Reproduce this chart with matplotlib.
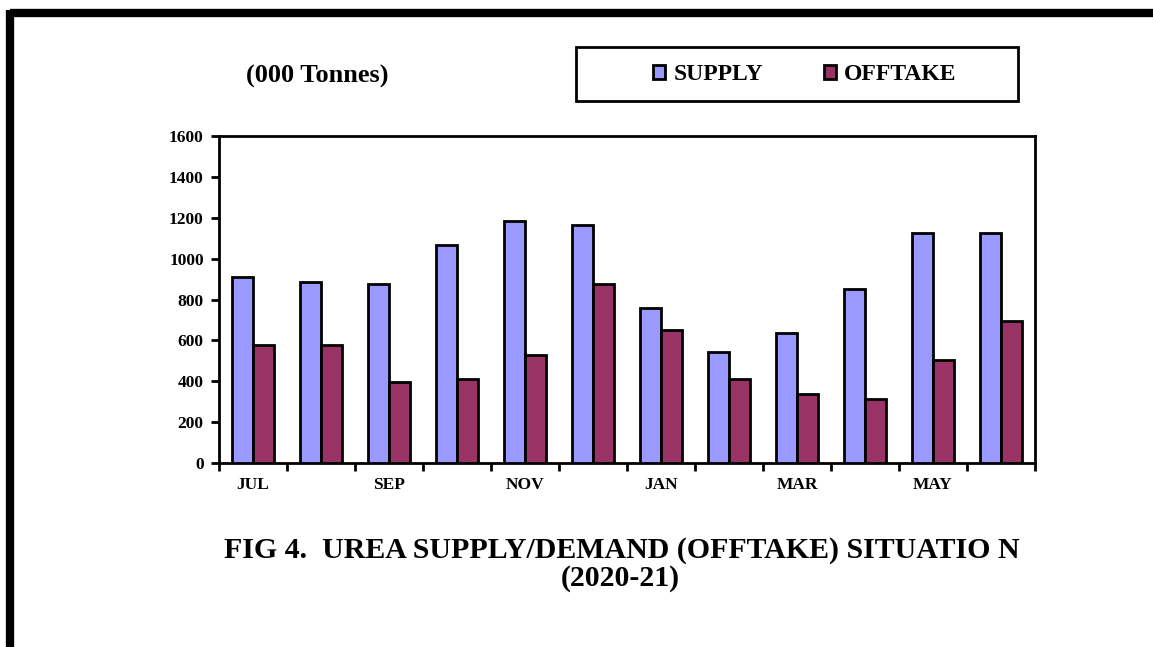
import numpy as np
import matplotlib
matplotlib.use("Agg")
import matplotlib.pyplot as plt
from matplotlib.lines import Line2D
from matplotlib.patches import Patch, Rectangle

# data (000 tonnes), 2020-21
months = ["JUL", "AUG", "SEP", "OCT", "NOV", "DEC", "JAN", "FEB", "MAR", "APR", "MAY", "JUN"]
supply = [910, 885, 875, 1065, 1185, 1165, 757, 541, 636, 853, 1127, 1127]
offtake = [576, 575, 396, 410, 530, 874, 649, 410, 339, 315, 505, 696]

supply_color = "#9999FF"
offtake_color = "#993366"

plt.rcParams["font.family"] = ["Liberation Serif", "DejaVu Serif"]
plt.rcParams["font.weight"] = "bold"

fig = plt.figure(figsize=(11.53, 6.47), dpi=100)
W, H = 1153, 647
ax = fig.add_axes([219 / W, 1 - 463 / H, (1035 - 219) / W, (463 - 136) / H])

x = np.arange(len(months))
bw = 0.31
ax.bar(x - bw / 2, supply, bw, color=supply_color, edgecolor="black", linewidth=2, zorder=3)
ax.bar(x + bw / 2, offtake, bw, color=offtake_color, edgecolor="black", linewidth=2, zorder=3)

ax.set_xlim(-0.5, len(months) - 0.5)
ax.set_ylim(0, 1600)
ax.set_yticks(np.arange(0, 1601, 200))
ax.tick_params(axis="y", direction="out", length=6, width=2, labelsize=12.5, pad=5)

# boundary ticks, labels on every other month
ax.set_xticks(np.arange(-0.5, len(months), 1.0))
ax.set_xticklabels([])
ax.tick_params(axis="x", direction="out", length=6, width=2)
ax.set_xticks(x[::2], minor=True)
ax.set_xticklabels(months[::2], minor=True, fontsize=12.5, fontweight="bold")
ax.tick_params(axis="x", which="minor", length=0, pad=10)
for lbl in ax.get_yticklabels():
    lbl.set_fontweight("bold")
for s in ax.spines.values():
    s.set_linewidth(2)

fig.text(317 / W, 1 - 76 / H, "(000 Tonnes)", ha="center", va="center", fontsize=19, fontweight="bold")

# legend box
fig.add_artist(Rectangle((576 / W, 1 - 101 / H), (1018 - 576) / W, (101 - 47) / H,
                         transform=fig.transFigure, facecolor="white", edgecolor="black",
                         linewidth=2))
handles = [Patch(facecolor=supply_color, edgecolor="black", linewidth=2),
           Patch(facecolor=offtake_color, edgecolor="black", linewidth=2)]
leg = fig.legend(handles, ["SUPPLY", "OFFTAKE"], loc="center",
                 bbox_to_anchor=(805 / W, 1 - 75 / H), ncol=2, frameon=False,
                 fontsize=17, handlelength=0.5, handleheight=0.5,
                 handletextpad=0.35, columnspacing=2.6, borderpad=0, borderaxespad=0)
for t in leg.get_texts():
    t.set_fontweight("bold")

fig.text(622 / W, 1 - 550 / H, "FIG 4.  UREA SUPPLY/DEMAND (OFFTAKE) SITUATIO N",
         ha="center", va="center", fontsize=21.5, fontweight="bold")
fig.text(620 / W, 1 - 579 / H, "(2020-21)", ha="center", va="center", fontsize=21.5, fontweight="bold")

# heavy frame lines at top and left
fig.add_artist(Line2D([10 / W, 1.0], [1 - 13 / H, 1 - 13 / H], color="black", linewidth=6,
                      transform=fig.transFigure, solid_capstyle="butt"))
fig.add_artist(Line2D([10 / W, 10 / W], [0.0, 1 - 10 / H], color="black", linewidth=6,
                      transform=fig.transFigure, solid_capstyle="butt"))

fig.savefig("out.png", dpi=100)
